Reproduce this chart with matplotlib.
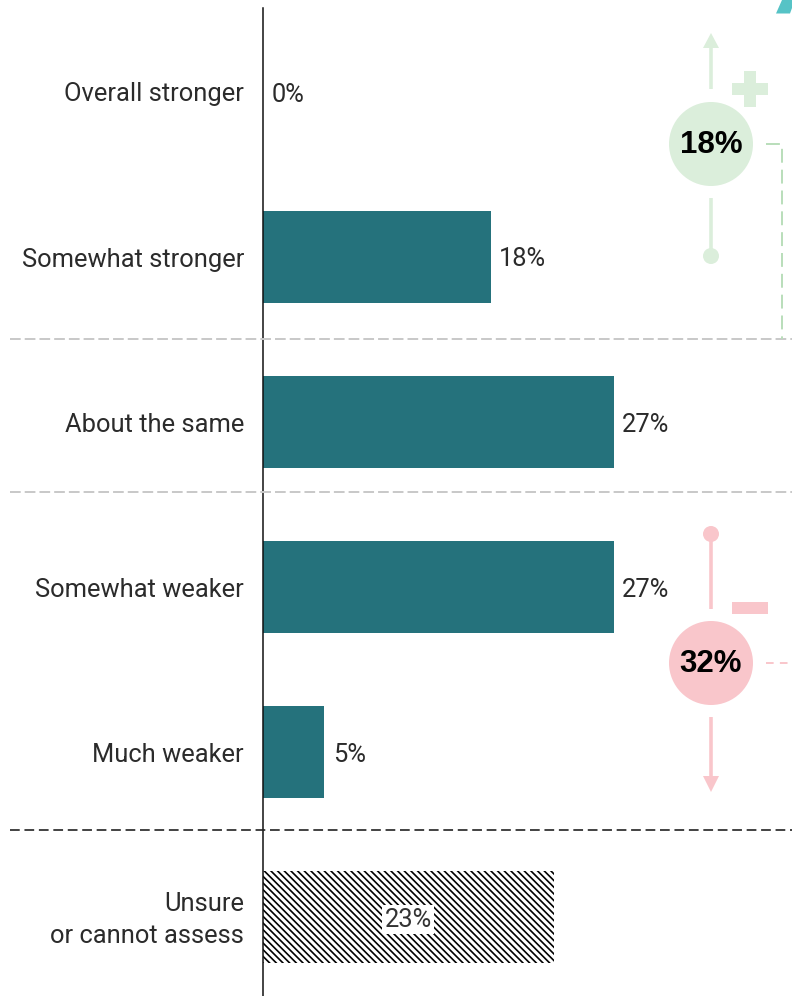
import matplotlib
matplotlib.use("Agg")
import matplotlib.pyplot as plt
from matplotlib.patches import Circle, Polygon, Rectangle

# ---------------- data ----------------
categories = ["Overall stronger", "Somewhat stronger", "About the same",
              "Somewhat weaker", "Much weaker", "Unsure\nor cannot assess"]
values = [0.0, 17.8, 27.4, 27.4, 4.8, 22.7]
stronger_idx = [0, 1]
weaker_idx = [3, 4]
unsure_idx = 5

# ---------------- styles ----------------
BAR = "#25727c"
TXT = "#2b2b2b"
GREEN_FILL = "#dbeedb"
GREEN_LINE = "#b9deba"
PINK_FILL = "#f9c6cb"
PINK_LINE = "#f9c6cb"
TEAL = "#56c3c6"
FS = 18.4

plt.rcParams["font.family"] = ["Roboto", "DejaVu Sans"]
plt.rcParams["lines.scale_dashes"] = False
plt.rcParams["hatch.linewidth"] = 1.2

W, H = 792, 996
fig = plt.figure(figsize=(W / 100, H / 100), dpi=100)

PX = 12.8          # pixels per percent
AXIS_X = 263       # pixel position of the zero line
ROW0 = 92          # pixel centre of first row
ROWH = 165         # pixels between rows
ax = fig.add_axes([0, 0, 1, 1])
ax.set_xlim(-AXIS_X / PX, (W - AXIS_X) / PX)
ax.set_ylim((H - ROW0) / ROWH, -ROW0 / ROWH)
ax.axis("off")

bar_h = 92 / ROWH
rows = list(range(len(categories)))
for i in rows:
    v = values[i]
    if i == unsure_idx:
        ax.barh(i, v, height=bar_h, color="white", edgecolor="black",
                linewidth=0, hatch="\\\\\\\\\\", zorder=2)
        ax.text(v / 2, i, f"{v:.0f}%", ha="center", va="center_baseline", fontsize=FS,
                color="#333333",
                bbox=dict(boxstyle="square,pad=0.1", fc="white", ec="none"), zorder=3)
    else:
        ax.barh(i, v, height=bar_h, color=BAR, linewidth=0, zorder=2)
        ax.annotate(f"{v:.0f}%", (v, i), xytext=(6, 0), textcoords="offset points",
                    ha="left", va="center_baseline", fontsize=FS, color=TXT)
    multi = "\n" in categories[i]
    ax.annotate(categories[i], (0, i), xytext=(-13.7, -2.2 if multi else 0),
                textcoords="offset points",
                ha="right", va="center" if multi else "center_baseline",
                fontsize=FS, color=TXT, linespacing=1.45)

# zero line
ax.axvline(0, ymin=0, ymax=1 - 8 / H, color="#111111", lw=1.1, zorder=4)

# ---------------- overlay in pixel units for decorations ----------------
ov = fig.add_axes([0, 0, 1, 1])
ov.set_xlim(0, W)
ov.set_ylim(H, 0)
ov.axis("off")
ov.patch.set_alpha(0)

# separators
ov.plot([10, W], [339, 339], color="#c8c8c8", lw=1.4, ls=(0, (7.7, 2.9)), zorder=1)
ov.plot([10, W], [492, 492], color="#c8c8c8", lw=1.4, ls=(0, (7.7, 2.9)), zorder=1)
ov.plot([10, W], [830, 830], color="#222222", lw=1.2, ls=(0, (7.0, 3.4)), zorder=1)

stronger_total = sum(values[i] for i in stronger_idx)
weaker_total = sum(values[i] for i in weaker_idx)

CX = 711
# green (stronger) group
ov.add_patch(Circle((CX, 144), 42, color=GREEN_FILL, lw=0, zorder=3))
ov.text(CX, 145, f"{stronger_total:.0f}%", ha="center", va="center", fontsize=22.5,
        fontweight="bold", family=["Liberation Sans", "DejaVu Sans"], color="black", zorder=4)
ov.plot([CX, CX], [89, 46], color=GREEN_FILL, lw=2.6, solid_capstyle="butt", zorder=3)
ov.add_patch(Polygon([(CX - 8, 48), (CX + 8, 48), (CX, 33)], closed=True,
                     color=GREEN_FILL, lw=0, zorder=3))
ov.plot([CX, CX], [198, 252], color=GREEN_FILL, lw=2.6, solid_capstyle="butt", zorder=3)
ov.add_patch(Circle((CX, 256), 8, color=GREEN_FILL, lw=0, zorder=3))
# plus sign
ov.add_patch(Rectangle((732, 83), 36, 12, color=GREEN_FILL, lw=0, zorder=3))
ov.add_patch(Rectangle((744, 71), 12, 36, color=GREEN_FILL, lw=0, zorder=3))
# bracket
ov.plot([766, 782, 782], [144, 144, 339], color=GREEN_LINE, lw=1.4,
        ls=(0, (10, 5)), zorder=2)

# pink (weaker) group
ov.add_patch(Circle((CX, 534), 8, color=PINK_FILL, lw=0, zorder=3))
ov.plot([CX, CX], [534, 609], color=PINK_FILL, lw=2.6, solid_capstyle="butt", zorder=3)
ov.add_patch(Rectangle((732, 602), 36, 12, color=PINK_FILL, lw=0, zorder=3))
ov.add_patch(Circle((CX, 663), 42, color=PINK_FILL, lw=0, zorder=3))
ov.text(CX, 664, f"{weaker_total:.0f}%", ha="center", va="center", fontsize=22.5,
        fontweight="bold", family=["Liberation Sans", "DejaVu Sans"], color="black", zorder=4)
ov.plot([CX, CX], [717, 778], color=PINK_FILL, lw=2.6, solid_capstyle="butt", zorder=3)
ov.add_patch(Polygon([(CX - 8, 776), (CX + 8, 776), (CX, 792)], closed=True,
                     color=PINK_FILL, lw=0, zorder=3))
ov.plot([766, W], [663, 663], color=PINK_LINE, lw=1.4, ls=(0, (5.5, 4.5)), zorder=2)

# teal corner mark
ov.add_patch(Polygon([(776, 13.5), (782, 0), (W, 0), (W, 8), (790, 13.5)], closed=True,
                     color=TEAL, lw=0, zorder=3))

fig.savefig("out.png", dpi=100)
